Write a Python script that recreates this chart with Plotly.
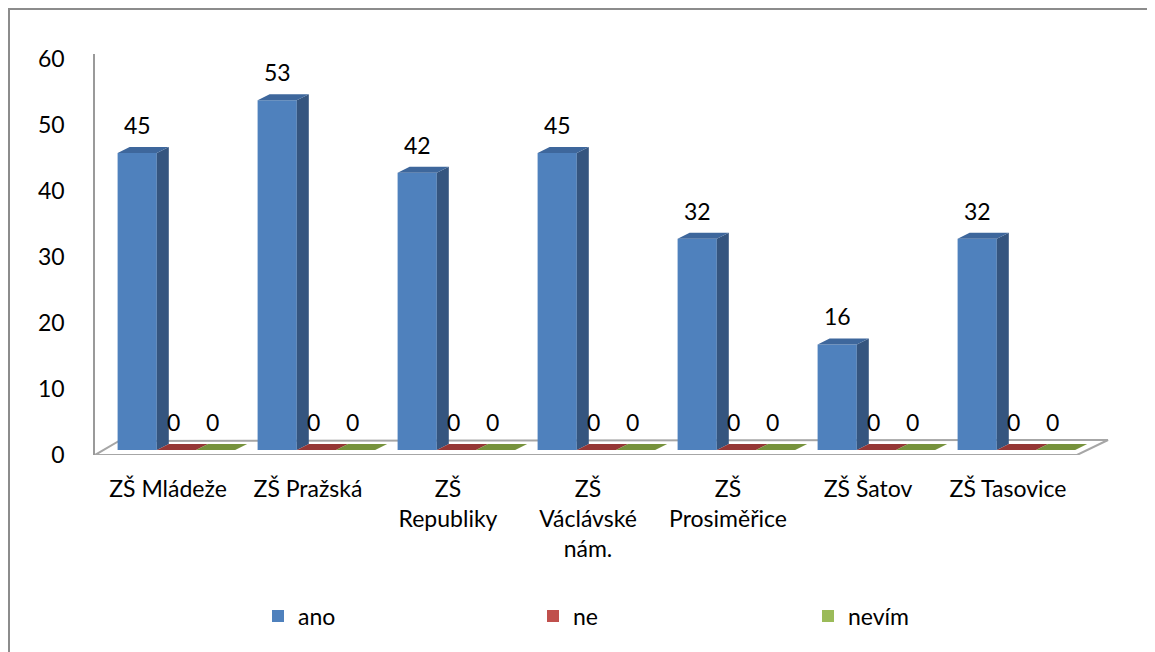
import plotly.graph_objects as go

# ---------------- data ----------------
categories = ["ZŠ Mládeže", "ZŠ Pražská", "ZŠ<br>Republiky", "ZŠ<br>Václávské<br>nám.",
              "ZŠ<br>Prosiměřice", "ZŠ Šatov", "ZŠ Tasovice"]
ano = [45, 53, 42, 45, 32, 16, 32]
ne = [0, 0, 0, 0, 0, 0, 0]
nevim = [0, 0, 0, 0, 0, 0, 0]
series_names = ["ano", "ne", "nevím"]
y_ticks = [0, 10, 20, 30, 40, 50, 60]

# ---------------- style / layout ----------------
WIN_W, WIN_H = 1155, 652
OFF = 8                                   # page body margin
W, H = WIN_W - OFF, WIN_H - OFF
FONT = "Lato"
FS = 23
front_colors = ["#4F81BD", "#C0504D", "#9BBB59"]
side_colors = ["#35557F", "#7E2B29", "#62782F"]
top_colors = ["#3E679C", "#953735", "#76923C"]

# pixel geometry of the plot area (page coordinates)
PL, PR, PT, PB = 95, 1120, 54, 455
CAT0_PX, CAT_STEP_PX = 168, 140          # pixel of category 0, spacing
ZERO_PX = 450                            # pixel of value 0 (front plane)
Y_MAX = 60
PX_PER_UNIT = (ZERO_PX - PT) / Y_MAX


def X(px):
    return (px - CAT0_PX) / CAT_STEP_PX


def Y(py):
    return (ZERO_PX - py) / PX_PER_UNIT


def PX(px):
    return (px - PL) / (PR - PL)


def PY(py):
    return (PB - py) / (PB - PT)


bar_w = 0.28
offsets = [-0.36, -0.08, 0.20]
DX = 12 / CAT_STEP_PX       # depth in x data units
DY = 6 / PX_PER_UNIT        # depth in y data units

fig = go.Figure()
all_series = [ano, ne, nevim]
idx = list(range(len(categories)))

for s, vals in enumerate(all_series):
    fig.add_trace(go.Bar(
        x=idx, y=vals, name=series_names[s], offset=offsets[s], width=bar_w,
        marker=dict(color=front_colors[s], line=dict(width=0)),
        hoverinfo="y",
    ))

shapes = []
# floor
fl = [(95, 455), (1077, 455), (1108, 440), (119, 441)]
path = "M " + " L ".join(f"{X(a)},{Y(b)}" for a, b in fl) + " Z"
shapes.append(dict(type="path", path=path, xref="x", yref="y",
                   line=dict(color="#A6A6A6", width=2), fillcolor="white", layer="below"))

annotations = []
for s, vals in enumerate(all_series):
    for i, v in enumerate(vals):
        xl = i + offsets[s]
        xr = xl + bar_w
        # side face
        if v > 0:
            p = f"M {xr},0 L {xr},{v} L {xr+DX},{v+DY} L {xr+DX},{DY} Z"
            shapes.append(dict(type="path", path=p, xref="x", yref="y",
                               line=dict(width=0), fillcolor=side_colors[s], layer="above"))
        # top face
        p = f"M {xl},{v} L {xr},{v} L {xr+DX},{v+DY} L {xl+DX},{v+DY} Z"
        shapes.append(dict(type="path", path=p, xref="x", yref="y",
                           line=dict(width=0), fillcolor=top_colors[s], layer="above"))
        annotations.append(dict(x=(xl + xr) / 2 - (0.02 if v == 0 else 0), y=v, yshift=28,
                                text=str(v), showarrow=False, xref="x", yref="y",
                                font=dict(family=FONT, size=FS, color="black")))

# chart border
shapes.append(dict(type="rect", xref="paper", yref="paper",
                   x0=PX(9), x1=PX(1200), y0=PY(9), y1=PY(700),
                   line=dict(color="#8C8C8C", width=2), fillcolor="rgba(0,0,0,0)", layer="above"))

fig.update_layout(
    width=W, height=H,
    margin=dict(l=PL - OFF, r=WIN_W - PR, t=PT - OFF, b=WIN_H - PB, pad=0, autoexpand=False),
    paper_bgcolor="white", plot_bgcolor="white",
    font=dict(family=FONT, size=FS, color="black"),
    barmode="overlay",
    shapes=shapes,
    annotations=annotations,
    showlegend=True,
    legend=dict(orientation="h", x=PX(258), xanchor="left", y=PY(616), yanchor="middle",
                entrywidth=230, entrywidthmode="pixels", font=dict(family=FONT, size=FS),
                bgcolor="rgba(0,0,0,0)", traceorder="normal"),
    xaxis=dict(range=[X(PL), X(PR)], tickvals=idx, ticktext=categories,
               showgrid=False, zeroline=False, showline=False, ticks="",
               ticklabelstandoff=18, tickfont=dict(family=FONT, size=FS), fixedrange=True),
    yaxis=dict(range=[Y(PB), Y(PT)], tickvals=y_ticks, showgrid=False, zeroline=False,
               showline=True, linecolor="#9A9A9A", linewidth=1.5, ticks="",
               ticklabelstandoff=24, ticklabelshift=5,
               tickfont=dict(family=FONT, size=FS), fixedrange=True),
)

fig.write_html("out.html")
